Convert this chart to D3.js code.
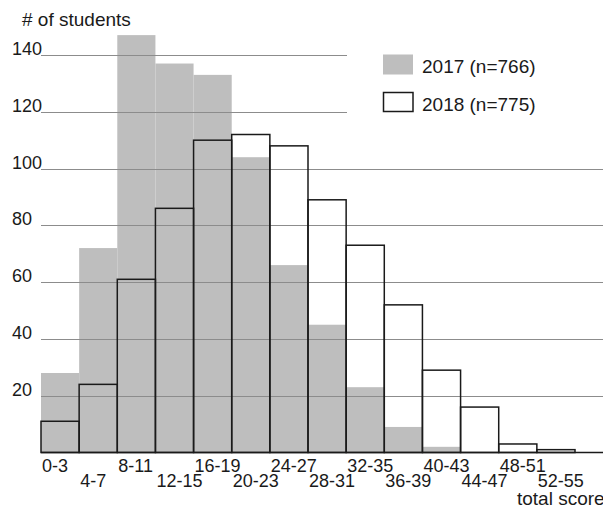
<!DOCTYPE html>
<html>
<head>
<meta charset="utf-8">
<script src="https://cdn.jsdelivr.net/npm/d3@7"></script>
<style>
  body { margin: 0; background: #fff; }
  svg text { font-family: "Liberation Sans", Arial, Helvetica, sans-serif; fill: #1a1a1a; }
</style>
</head>
<body>
<div id="mychart"></div>
<script>
// histogram of total scores, 2017 vs 2018

const chartTarget = "#mychart"

// data
const bins = ["0-3", "4-7", "8-11", "12-15", "16-19", "20-23", "24-27",
  "28-31", "32-35", "36-39", "40-43", "44-47", "48-51", "52-55"]
const counts2017 = [28, 72, 147, 137, 133, 104, 66, 45, 23, 9, 2, 0, 0, 0]
const counts2018 = [11, 24, 61, 86, 110, 112, 108, 89, 73, 52, 29, 16, 3, 1]
const yTicks = [20, 40, 60, 80, 100, 120, 140]
const seriesNames = ["2017 (n=766)", "2018 (n=775)"]

const chartWidth = 603
const chartHeight = 508
const labelSize = "18px"
const titleSize = "19px"

// margins
const marginLeft = 41
const plotRight = 575
const baseY = 452.5
const topY = 55 // position of the 140 line

const xScale = d3.scaleBand(bins, [marginLeft, plotRight]).padding(0)
const yScale = d3.scaleLinear([0, 140], [baseY, topY])

const svg = d3.select(chartTarget)
  .append("svg")
  .attr("width", chartWidth)
  .attr("height", chartHeight)
  .attr("viewBox", [0, 0, chartWidth, chartHeight])

// 2017 filled bars
svg.append("g")
  .selectAll("rect")
  .data(counts2017)
  .join("rect")
  .attr("x", (d, i) => xScale(bins[i]))
  .attr("y", d => yScale(d))
  .attr("width", xScale.bandwidth())
  .attr("height", d => baseY - yScale(d))
  .attr("fill", "#bebebe")

// gridlines, the top two stop short of the legend
const yAxis = svg.append("g").attr("class", "yaxis")
yAxis.selectAll("line")
  .data(yTicks)
  .join("line")
  .attr("x1", marginLeft)
  .attr("x2", d => d >= 120 ? 347 : chartWidth)
  .attr("y1", d => Math.round(yScale(d)) + 0.5)
  .attr("y2", d => Math.round(yScale(d)) + 0.5)
  .attr("stroke", "#8c8c8c")
  .attr("stroke-width", 1.2)

yAxis.selectAll("text")
  .data(yTicks)
  .join("text")
  .attr("x", 12)
  .attr("y", d => yScale(d))
  .attr("font-size", labelSize)
  .text(d => d)

// 2018 outlined bars
svg.append("g")
  .selectAll("rect")
  .data(counts2018)
  .join("rect")
  .attr("x", (d, i) => xScale(bins[i]))
  .attr("y", d => yScale(d))
  .attr("width", xScale.bandwidth())
  .attr("height", d => baseY - yScale(d))
  .attr("fill", "none")
  .attr("stroke", "#1a1a1a")
  .attr("stroke-width", 1.5)

// baseline
svg.append("line")
  .attr("x1", marginLeft)
  .attr("x2", chartWidth)
  .attr("y1", baseY)
  .attr("y2", baseY)
  .attr("stroke", "#1a1a1a")
  .attr("stroke-width", 1.5)

// x labels, staggered on two rows
svg.append("g")
  .selectAll("text")
  .data(bins)
  .join("text")
  .attr("x", d => xScale(d) + 1)
  .attr("y", (d, i) => i % 2 === 0 ? 471.5 : 486.5)
  .attr("font-size", labelSize)
  .text(d => d)

// axis titles
svg.append("text")
  .attr("x", 22)
  .attr("y", 26)
  .attr("font-size", titleSize)
  .text("# of students")

svg.append("text")
  .attr("x", 517)
  .attr("y", 505)
  .attr("font-size", titleSize)
  .text("total score")

// legend
const legend = svg.append("g")
legend.append("rect")
  .attr("x", 383).attr("y", 54.5)
  .attr("width", 30).attr("height", 20)
  .attr("fill", "#bebebe")
legend.append("rect")
  .attr("x", 383.5).attr("y", 92.5)
  .attr("width", 29.5).attr("height", 19)
  .attr("fill", "none")
  .attr("stroke", "#1a1a1a")
  .attr("stroke-width", 1.5)
legend.selectAll("text")
  .data(seriesNames)
  .join("text")
  .attr("x", 422)
  .attr("y", (d, i) => i === 0 ? 73 : 111)
  .attr("font-size", titleSize)
  .text(d => d)
</script>
</body>
</html>
